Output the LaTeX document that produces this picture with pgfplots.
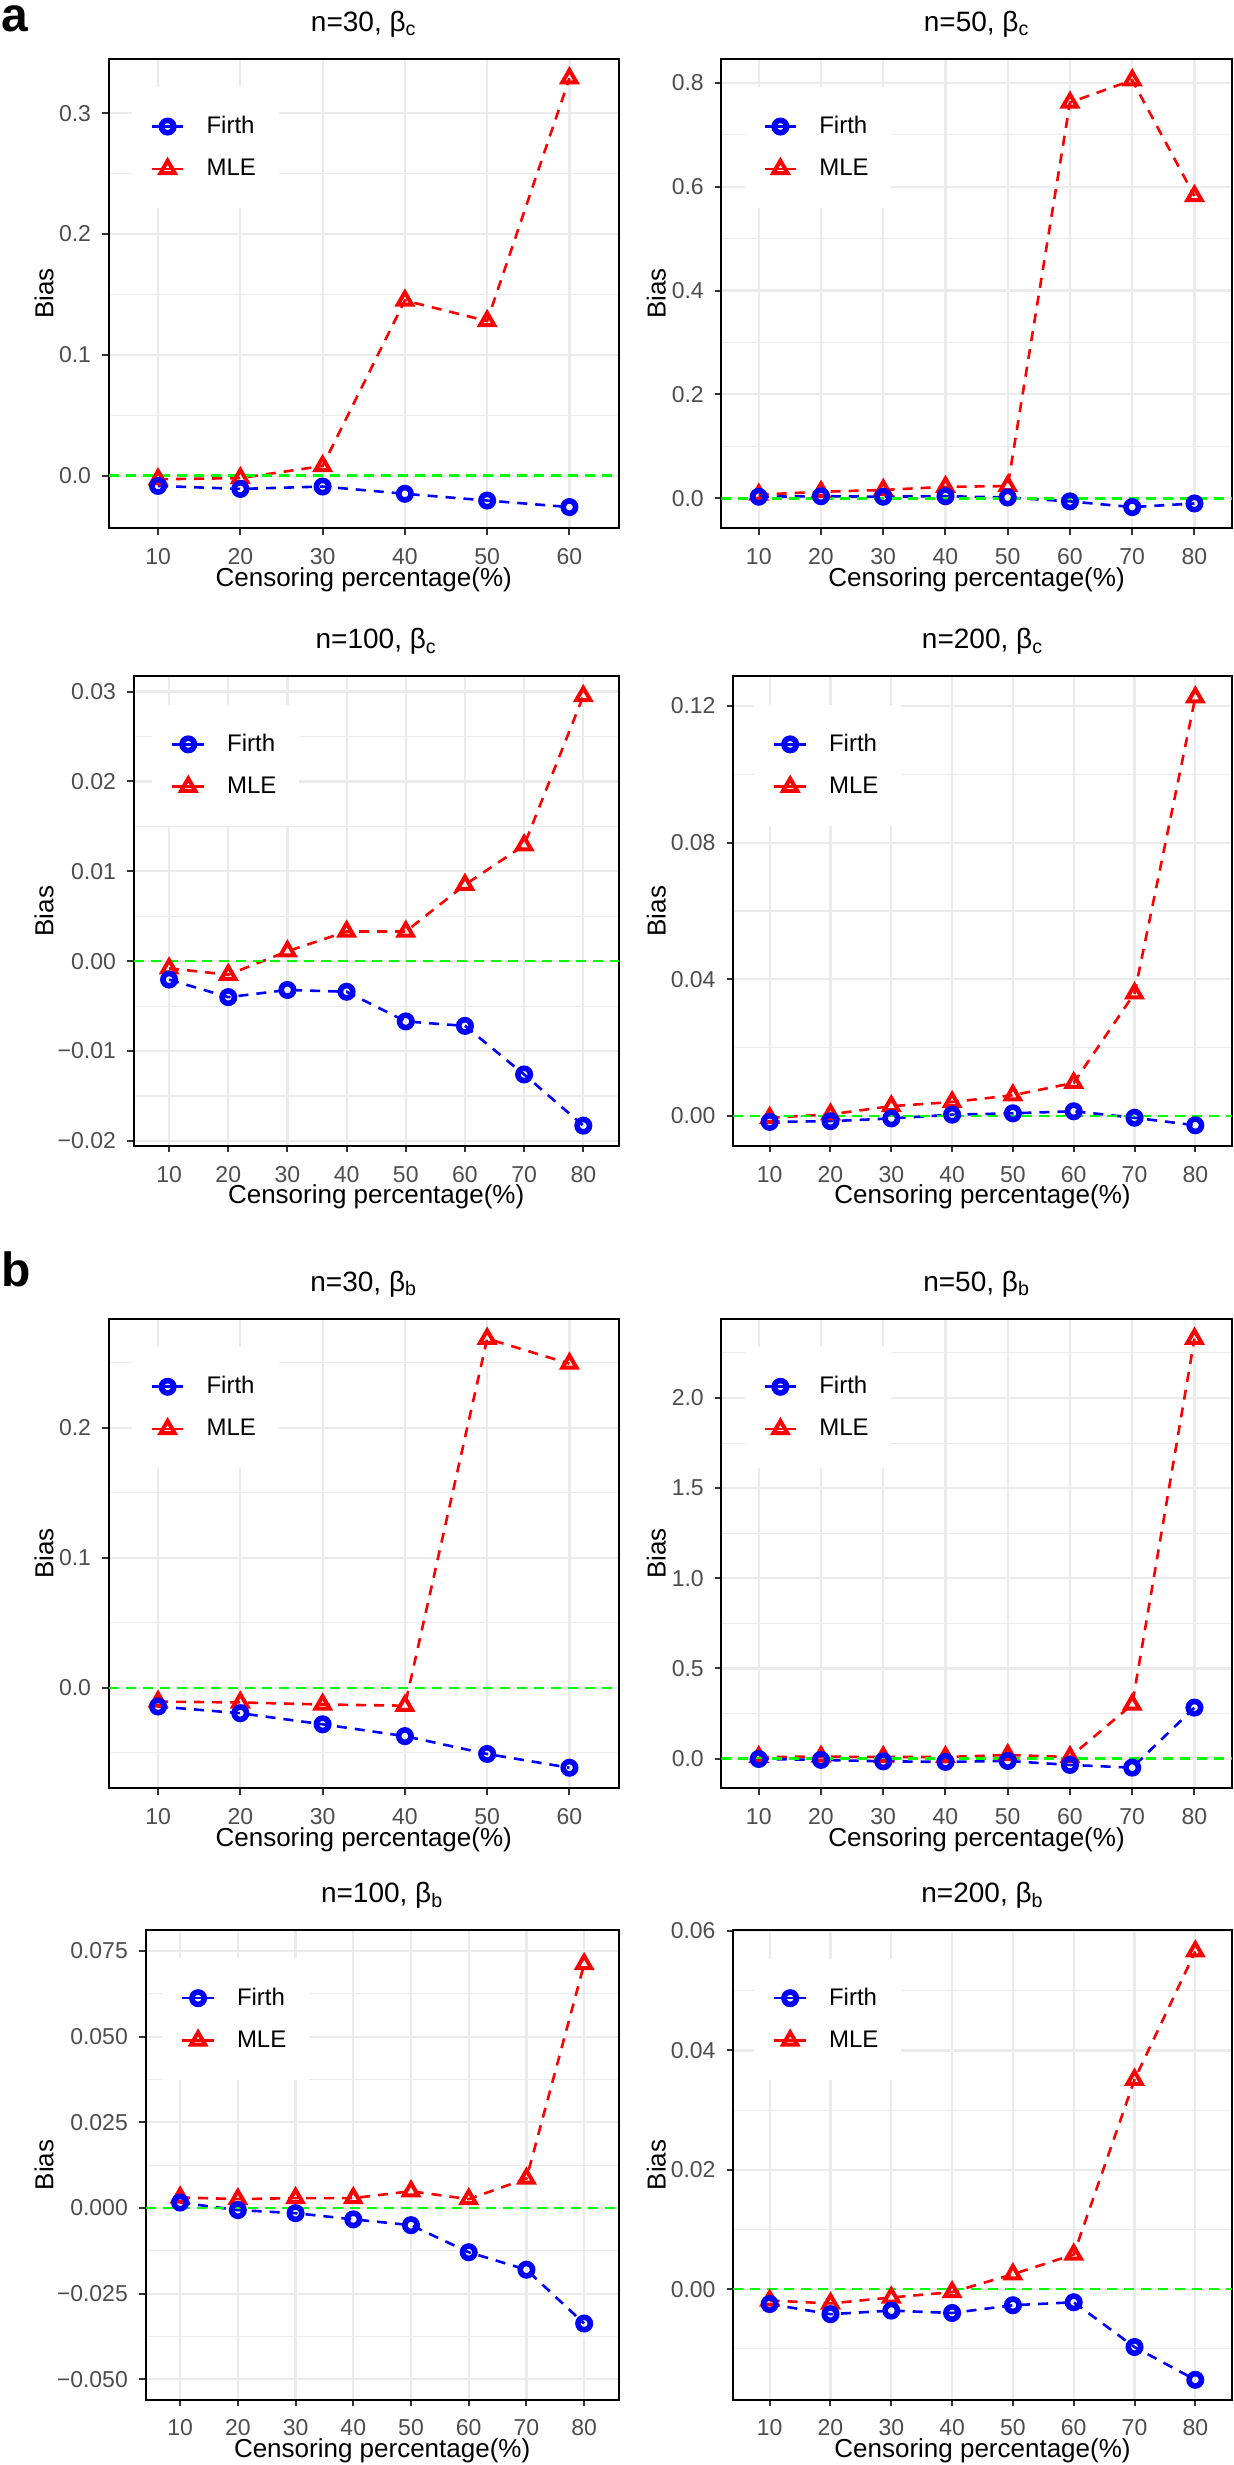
\documentclass[border=0pt]{standalone}
\usepackage{fontspec}
\setmainfont{Liberation Sans}
\usepackage{pgfplots}
\pgfplotsset{compat=1.18}
\definecolor{gridgray}{RGB}{235,235,235}
\definecolor{ticklab}{RGB}{77,77,77}
\definecolor{tickcol}{RGB}{51,51,51}
\definecolor{myblue}{RGB}{0,0,255}
\definecolor{myred}{RGB}{255,0,0}
\definecolor{mygreen}{RGB}{0,255,0}
\pgfplotsset{
  panel/.style={
    scale only axis, height=234.7pt, anchor=south west,
    /pgf/number format/assume math mode=true,
    axis line style={line width=1pt, black},
    tick align=outside, major tick length=3.3pt, minor tick length=0pt,
    every tick/.style={line width=1pt, tickcol},
    xtick pos=bottom, ytick pos=left,
    xtick={10,20,...,80},
    scaled ticks=false,
    xmajorgrids, ymajorgrids, yminorgrids,
    major grid style={line width=1.1pt, gridgray},
    minor grid style={line width=0.55pt, gridgray},
    every tick label/.style={font=\fontsize{11.5}{12}\selectfont, text=ticklab},
    xticklabel style={yshift=-3.2pt},
    yticklabel style={xshift=-2pt},
    every axis title/.style={at={(axis description cs:0.5,1)}, anchor=base, yshift=13.8pt, font=\fontsize{14}{16}\selectfont},
    xlabel={Censoring percentage(\%)}, ylabel={Bias},
    every axis x label/.style={at={(axis description cs:0.5,0)}, anchor=base, yshift=-29pt, font=\fontsize{13}{15}\selectfont},
    every axis y label/.style={rotate=90, anchor=center, font=\fontsize{13}{15}\selectfont},
    legend style={at={(axis description cs:0.172,1)}, anchor=north west, xshift=-32.5pt, yshift=-13.9pt,
      fill=white, draw=none, inner xsep=9.35pt, inner ysep=12.75pt, row sep=7.2pt, column sep=8.9pt,
      font=\fontsize{12}{14}\selectfont},
    legend cell align=left,
    reverse legend,
    legend image code/.code={\draw[mark repeat=2,mark phase=2,#1,solid] plot coordinates {(0pt,0pt) (7.9pt,0pt) (15.8pt,0pt)};},
  },
  six/.style={xmin=4, xmax=66},
  eight/.style={xmin=4, xmax=86},
  firth/.style={color=myblue, line width=1.3pt, dash pattern=on 5pt off 4pt, mark=o, mark size=3.1pt, mark options={solid, line width=2.8pt}},
  mle/.style={color=myred, line width=1.3pt, dash pattern=on 5pt off 4pt, mark=triangle, mark size=4.1pt, mark options={solid, line width=2pt}},
  zero/.style={color=mygreen, line width=1.3pt, dash pattern=on 5pt off 3.5pt, forget plot},
}
\begin{document}
\begin{tikzpicture}
\useasboundingbox (0pt,0pt) rectangle (616.5pt,1232.5pt);
\node[anchor=base west, inner sep=0pt, font=\fontsize{24}{24}\selectfont\bfseries] at (0.8pt,1216.5pt) {a};
\node[anchor=base west, inner sep=0pt, font=\fontsize{24}{24}\selectfont\bfseries] at (0.8pt,589.15pt) {b};

% P1
\begin{axis}[panel, six, at={(54.35pt,968.45pt)}, width=255.05pt,
  title={n=30, β\textsubscript{c}},
  ymin=-0.0434, ymax=0.3452,
  ytick={0,0.1,0.2,0.3}, yticklabels={0.0,0.1,0.2,0.3}, minor ytick={0.05,0.15,0.25},
  ylabel style={at={(axis description cs:-0.1268,0.5)}}]
\addplot[mle] coordinates {(10,-0.003) (20,-0.002) (30,0.008) (40,0.145) (50,0.128) (60,0.329)};
\addlegendentry{MLE}
\addplot[firth] coordinates {(10,-0.0085) (20,-0.011) (30,-0.009) (40,-0.015) (50,-0.0206) (60,-0.026)};
\addlegendentry{Firth}
\addplot[zero] coordinates {(4,0) (66,0)};
\end{axis}

% P2
\begin{axis}[panel, eight, at={(360.7pt,968.45pt)}, width=255.2pt,
  title={n=50, β\textsubscript{c}},
  ymin=-0.0574, ymax=0.8464,
  ytick={0,0.2,0.4,0.6,0.8}, yticklabels={0.0,0.2,0.4,0.6,0.8}, minor ytick={0.1,0.3,0.5,0.7},
  ylabel style={at={(axis description cs:-0.1274,0.5)}}]
\addplot[mle] coordinates {(10,0.007) (20,0.0125) (30,0.016) (40,0.022) (50,0.0235) (60,0.762) (70,0.805) (80,0.582)};
\addlegendentry{MLE}
\addplot[firth] coordinates {(10,0.003) (20,0.004) (30,0.003) (40,0.004) (50,0.0015) (60,-0.006) (70,-0.017) (80,-0.010)};
\addlegendentry{Firth}
\addplot[zero] coordinates {(4,0) (86,0)};
\end{axis}

% P3
\begin{axis}[panel, eight, at={(66.8pt,659.55pt)}, width=242.6pt,
  title={n=100, β\textsubscript{c}},
  ymin=-0.02055, ymax=0.03168,
  ytick={-0.02,-0.01,0,0.01,0.02,0.03}, yticklabels={−0.02,−0.01,0.00,0.01,0.02,0.03},
  minor ytick={-0.015,-0.005,0.005,0.015,0.025},
  ylabel style={at={(axis description cs:-0.1847,0.5)}}]
\addplot[mle] coordinates {(10,-0.0008) (20,-0.0015) (30,0.0011) (40,0.0033) (50,0.0033) (60,0.0085) (70,0.0129) (80,0.0295)};
\addlegendentry{MLE}
\addplot[firth] coordinates {(10,-0.00205) (20,-0.0040) (30,-0.0032) (40,-0.0034) (50,-0.0067) (60,-0.0072) (70,-0.0126) (80,-0.0183)};
\addlegendentry{Firth}
\addplot[zero] coordinates {(4,0) (86,0)};
\end{axis}

% P4
\begin{axis}[panel, eight, at={(366.6pt,659.55pt)}, width=249.3pt,
  title={n=200, β\textsubscript{c}},
  ymin=-0.00873, ymax=0.1286,
  ytick={0,0.04,0.08,0.12}, yticklabels={0.00,0.04,0.08,0.12}, minor ytick={0.02,0.06,0.10},
  ylabel style={at={(axis description cs:-0.1540,0.5)}}]
\addplot[mle] coordinates {(10,-0.0005) (20,0.0005) (30,0.0029) (40,0.0041) (50,0.0061) (60,0.0097) (70,0.0359) (80,0.1225)};
\addlegendentry{MLE}
\addplot[firth] coordinates {(10,-0.0017) (20,-0.0015) (30,-0.0007) (40,0.0004) (50,0.0008) (60,0.0014) (70,-0.0005) (80,-0.0027)};
\addlegendentry{Firth}
\addplot[zero] coordinates {(4,0) (86,0)};
\end{axis}

% P5
\begin{axis}[panel, six, at={(54.35pt,338.35pt)}, width=255.05pt,
  title={n=30, β\textsubscript{b}},
  ymin=-0.0772, ymax=0.2836,
  ytick={0,0.1,0.2}, yticklabels={0.0,0.1,0.2}, minor ytick={-0.05,0.05,0.15,0.25},
  ylabel style={at={(axis description cs:-0.1268,0.5)}}]
\addplot[mle] coordinates {(10,-0.0106) (20,-0.0112) (30,-0.0128) (40,-0.0137) (50,0.2684) (60,0.2492)};
\addlegendentry{MLE}
\addplot[firth] coordinates {(10,-0.0143) (20,-0.0195) (30,-0.028) (40,-0.0371) (50,-0.0508) (60,-0.0614)};
\addlegendentry{Firth}
\addplot[zero] coordinates {(4,0) (66,0)};
\end{axis}

% P6
\begin{axis}[panel, eight, at={(360.7pt,338.35pt)}, width=255.2pt,
  title={n=50, β\textsubscript{b}},
  ymin=-0.1645, ymax=2.4386,
  ytick={0,0.5,1,1.5,2}, yticklabels={0.0,0.5,1.0,1.5,2.0}, minor ytick={0.25,0.75,1.25,1.75,2.25},
  ylabel style={at={(axis description cs:-0.1274,0.5)}}]
\addplot[mle] coordinates {(10,0.009) (20,0.011) (30,0.009) (40,0.009) (50,0.02) (60,0.009) (70,0.300) (80,2.329)};
\addlegendentry{MLE}
\addplot[firth] coordinates {(10,-0.002) (20,-0.007) (30,-0.015) (40,-0.018) (50,-0.013) (60,-0.035) (70,-0.050) (80,0.283)};
\addlegendentry{Firth}
\addplot[zero] coordinates {(4,0) (86,0)};
\end{axis}

% P7
\begin{axis}[panel, eight, at={(72.75pt,32.65pt)}, width=236.65pt,
  title={n=100, β\textsubscript{b}},
  ymin=-0.05593, ymax=0.08105,
  ytick={-0.05,-0.025,0,0.025,0.05,0.075}, yticklabels={−0.050,−0.025,0.000,0.025,0.050,0.075},
  minor ytick={-0.0375,-0.0125,0.0125,0.0375,0.0625},
  ylabel style={at={(axis description cs:-0.2145,0.5)}}]
\addplot[mle] coordinates {(10,0.0031) (20,0.0026) (30,0.0029) (40,0.0029) (50,0.0049) (60,0.0026) (70,0.0086) (80,0.0712)};
\addlegendentry{MLE}
\addplot[firth] coordinates {(10,0.0016) (20,-0.0006) (30,-0.0015) (40,-0.0033) (50,-0.005) (60,-0.0129) (70,-0.018) (80,-0.0337)};
\addlegendentry{Firth}
\addplot[zero] coordinates {(4,0) (86,0)};
\end{axis}

% P8
\begin{axis}[panel, eight, at={(366.6pt,32.65pt)}, width=249.3pt,
  title={n=200, β\textsubscript{b}},
  ymin=-0.01853, ymax=0.06013,
  ytick={0,0.02,0.04,0.06}, yticklabels={0.00,0.02,0.04,0.06}, minor ytick={-0.01,0.01,0.03,0.05},
  ylabel style={at={(axis description cs:-0.1540,0.5)}}]
\addplot[mle] coordinates {(10,-0.0019) (20,-0.0024) (30,-0.0014) (40,-0.0005) (50,0.0025) (60,0.0058) (70,0.0351) (80,0.0566)};
\addlegendentry{MLE}
\addplot[firth] coordinates {(10,-0.0025) (20,-0.0042) (30,-0.0036) (40,-0.004) (50,-0.0027) (60,-0.0022) (70,-0.0097) (80,-0.0152)};
\addlegendentry{Firth}
\addplot[zero] coordinates {(4,0) (86,0)};
\end{axis}
\end{tikzpicture}
\end{document}
